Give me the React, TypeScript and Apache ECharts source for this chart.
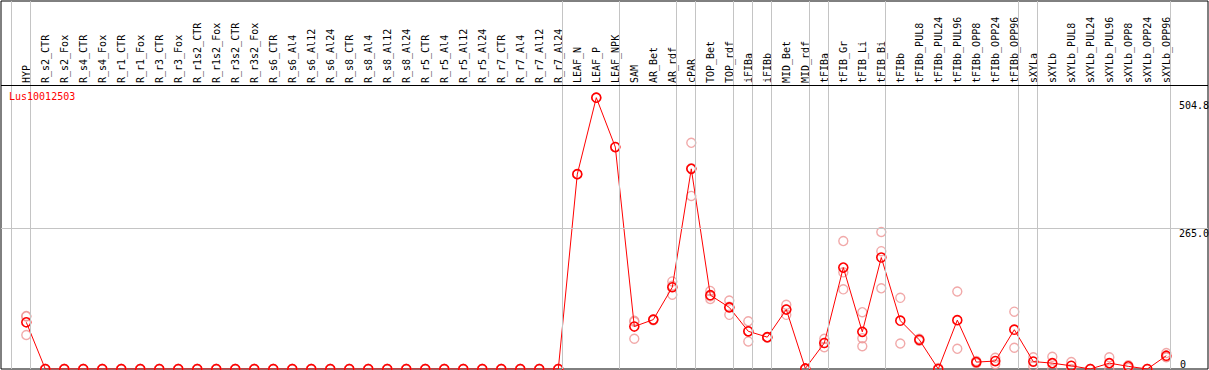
import React, { useEffect, useRef } from "react";
import * as echarts from "echarts";

const categories = [
  "HYP",
  "R_s2_CTR", "R_s2_Fox", "R_s4_CTR", "R_s4_Fox",
  "R_r1_CTR", "R_r1_Fox", "R_r3_CTR", "R_r3_Fox",
  "R_r1s2_CTR", "R_r1s2_Fox", "R_r3s2_CTR", "R_r3s2_Fox",
  "R_s6_CTR", "R_s6_Al4", "R_s6_Al12", "R_s6_Al24",
  "R_s8_CTR", "R_s8_Al4", "R_s8_Al12", "R_s8_Al24",
  "R_r5_CTR", "R_r5_Al4", "R_r5_Al12", "R_r5_Al24",
  "R_r7_CTR", "R_r7_Al4", "R_r7_Al12", "R_r7_Al24",
  "LEAF_N", "LEAF_P", "LEAF_NPK",
  "SAM", "AR_Bet", "AR_rdf", "cPAR",
  "TOP_Bet", "TOP_rdf", "iFIBa", "iFIBb",
  "MID_Bet", "MID_rdf", "tFIBa", "tFIB_Gr", "tFIB_Li", "tFIB_Bi",
  "tFIBb", "tFIBb_PUL8", "tFIBb_PUL24", "tFIBb_PUL96",
  "tFIBb_OPP8", "tFIBb_OPP24", "tFIBb_OPP96",
  "sXYLa", "sXYLb", "sXYLb_PUL8", "sXYLb_PUL24", "sXYLb_PUL96",
  "sXYLb_OPP8", "sXYLb_OPP24", "sXYLb_OPP96",
];

const means = [
  88,
  0, 0, 0, 0,
  0, 0, 0, 0,
  0, 0, 0, 0,
  0, 0, 0, 0,
  0, 0, 0, 0,
  0, 0, 0, 0,
  0, 0, 0, 0,
  367, 511, 418,
  80, 93, 154, 377,
  139, 116, 71, 60,
  112, 1, 49, 191, 70, 210,
  91, 55, 0, 92,
  13, 15, 74,
  14, 11, 6, 0, 11,
  5, 0, 25,
];

const replicates: number[][] = [
  [100, 99, 64],
  [0, 0, 0], [0, 0, 0], [0, 0, 0], [0, 0, 0],
  [0, 0, 0], [0, 0, 0], [0, 0, 0], [0, 0, 0],
  [0, 0, 0], [0, 0, 0], [0, 0, 0], [0, 0, 0],
  [0, 0, 0], [0, 0, 0], [0, 0, 0], [0, 0, 0],
  [0, 0, 0], [0, 0, 0], [0, 0, 0], [0, 0, 0],
  [0, 0, 0], [0, 0, 0], [0, 0, 0], [0, 0, 0],
  [0, 0, 0], [0, 0, 0], [0, 0, 0], [0, 0, 0],
  [367], [511], [418],
  [91, 89, 57], [93, 92], [165, 157, 140], [426, 378, 326],
  [147, 137, 132], [129, 117, 102], [90, 71, 52], [60, 59],
  [121, 112, 102], [0, 0, 0], [57, 49, 41], [241, 182, 150], [107, 58, 43], [258, 222, 152],
  [134, 48], [57, 53], [2, 0], [146, 38],
  [15, 11], [21, 9], [108, 40],
  [22, 5], [23, 0], [13, 0], [0, 0], [22, 0],
  [7, 2], [0, 0], [30, 22, 23],
];

// last category of each group; "" marks the separator before the first one
const groupEnds = [
  "", "HYP", "R_r7_Al24", "LEAF_NPK", "AR_rdf", "cPAR", "TOP_rdf",
  "iFIBa", "iFIBb", "MID_rdf", "tFIBa", "tFIB_Bi", "tFIBb_OPP96",
  "sXYLa", "sXYLb_OPP96",
];

const yTickValues = [265, 504.8];
const yZeroValues = [0];
const gridValue = 265;
const headerValue = 535;
const yMax = 693.1;
const seriesName = "Lus10012503";

const FONT = "'DejaVu Sans Mono', 'Liberation Mono', monospace";
const RED = "#ff0000";
const PINK = "#ee9494";
const GREY = "#c4c4c4";

export default function App() {
  const ref = useRef<HTMLDivElement>(null);

  useEffect(() => {
    const chart = echarts.init(ref.current as HTMLDivElement, null, { renderer: "svg" });
    const sepValues = groupEnds.map((n) => (n === "" ? -1 : categories.indexOf(n)) + 0.2);
    const repData: number[][] = [];
    replicates.forEach((reps, i) => reps.forEach((v) => repData.push([i, v])));

    chart.setOption({
      animation: false,
      backgroundColor: "#ffffff",
      title: {
        text: seriesName,
        left: 9,
        top: 91,
        padding: 0,
        textStyle: { color: RED, fontSize: 10, fontWeight: "normal", fontFamily: FONT },
      },
      grid: [
        {
          left: 1, right: 1, top: 1, bottom: 1, show: true,
          borderColor: "#000", borderWidth: 1, backgroundColor: "transparent",
          containLabel: false, outerBoundsMode: "none",
        },
        { left: 16.8, right: 33.2, top: 1, bottom: 1, containLabel: false, outerBoundsMode: "none" },
      ],
      xAxis: [
        { gridIndex: 0, type: "value", min: -1.3316, max: 62.195, show: false },
        {
          gridIndex: 1,
          type: "category",
          data: categories,
          position: "top",
          offset: -84,
          boundaryGap: true,
          axisLine: { show: false },
          axisTick: { show: false },
          splitLine: { show: false },
          axisLabel: {
            interval: 0, rotate: 90, margin: 2, fontSize: 10,
            fontFamily: FONT, color: "#000",
          },
        },
      ],
      yAxis: [
        {
          gridIndex: 0, type: "value", min: 0, max: yMax, position: "right", offset: -30,
          axisLine: { show: false }, axisTick: { show: false }, splitLine: { show: false },
          axisLabel: {
            customValues: yTickValues,
            formatter: (v: number) => v.toFixed(1),
            verticalAlign: "top", align: "left", margin: 1,
            fontSize: 10, fontFamily: FONT, color: "#000",
          },
        },
        {
          gridIndex: 0, type: "value", min: 0, max: yMax, position: "right", offset: -30,
          axisLine: { show: false }, axisTick: { show: false }, splitLine: { show: false },
          axisLabel: {
            customValues: yZeroValues,
            formatter: (v: number) => String(v),
            verticalAlign: "bottom", align: "left", margin: 2,
            fontSize: 10, fontFamily: FONT, color: "#000",
          },
        },
        { gridIndex: 1, type: "value", min: 0, max: yMax, show: false },
      ],
      series: [
        {
          type: "line",
          xAxisIndex: 0,
          yAxisIndex: 0,
          data: [],
          silent: true,
          z: 1,
          markLine: {
            silent: true,
            symbol: ["none", "none"],
            label: { show: false },
            emphasis: { disabled: true },
            data: [
              ...sepValues.map((v) => ({ xAxis: v, lineStyle: { color: GREY, width: 1, type: "solid" } })),
              { yAxis: gridValue, lineStyle: { color: GREY, width: 1, type: "solid" } },
              { yAxis: headerValue, lineStyle: { color: "#000", width: 1, type: "solid" } },
            ],
          },
        },
        {
          type: "scatter",
          xAxisIndex: 1,
          yAxisIndex: 2,
          data: repData,
          symbol: "circle",
          symbolSize: 9,
          silent: true,
          z: 2,
          itemStyle: { color: "rgba(255,255,255,0)", borderColor: PINK, borderWidth: 1.4 },
        },
        {
          type: "line",
          name: seriesName,
          xAxisIndex: 1,
          yAxisIndex: 2,
          data: means,
          symbol: "circle",
          symbolSize: 9,
          showAllSymbol: true,
          silent: true,
          z: 3,
          lineStyle: { color: RED, width: 1 },
          itemStyle: { color: "rgba(255,255,255,0)", borderColor: RED, borderWidth: 1.6 },
        },
      ],
    });
    return () => chart.dispose();
  }, []);

  return (
    <div
      ref={ref}
      style={{ position: "fixed", left: 0, top: 0, width: 1209, height: 370 }}
    />
  );
}
